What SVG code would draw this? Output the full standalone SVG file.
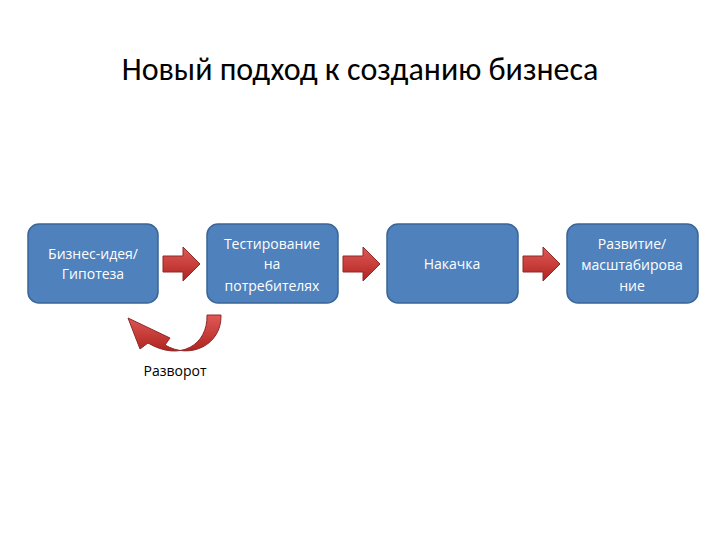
<svg xmlns="http://www.w3.org/2000/svg" width="720" height="540" viewBox="0 0 720 540">
<defs>
<linearGradient id="rg" x1="0" y1="0" x2="0" y2="1"><stop offset="0" stop-color="#e05a57"/><stop offset="1" stop-color="#b02420"/></linearGradient>
<style>
.box{fill:#4f81bd;stroke:#3a6596;stroke-width:1.5}
.bt{font-family:"Open Sans","DejaVu Sans",sans-serif;font-size:14px;fill:#ffffff;text-anchor:middle}
.ar{fill:url(#rg);stroke:#8c2a28;stroke-width:1}
</style>
</defs>
<rect width="720" height="540" fill="#fff"/>
<text x="360" y="80" font-family="Calibri,'Open Sans','DejaVu Sans',sans-serif" font-size="32" fill="#000" text-anchor="middle">Новый подход к созданию бизнеса</text>
<g id="n1"><rect class="box" x="28" y="224" width="130" height="79" rx="11"/><text class="bt" x="93" y="259">Бизнес-идея/</text><text class="bt" x="93" y="279">Гипотеза</text></g>
<g id="n2"><rect class="box" x="207" y="224" width="131" height="79" rx="11"/><text class="bt" x="272" y="249">Тестирование</text><text class="bt" x="272" y="269">на</text><text class="bt" x="272" y="291">потребителях</text></g>
<g id="n3"><rect class="box" x="387" y="224" width="131" height="79" rx="11"/><text class="bt" x="452" y="269">Накачка</text></g>
<g id="n4"><rect class="box" x="567" y="224" width="131" height="79" rx="11"/><text class="bt" x="632" y="249">Развитие/</text><text class="bt" x="632" y="270">масштабирова</text><text class="bt" x="632" y="291">ние</text></g>
<g id="connectors">
<path class="ar" d="M163,256 H183 V247 L200,264 L183,281 V272 H163 Z"/>
<path class="ar" d="M343,256 H363 V247 L380,264 L363,281 V272 H343 Z"/>
<path class="ar" d="M523,256 H543 V247 L560,264 L543,281 V272 H523 Z"/>
<path class="ar" d="M221,315 C222,345 190,360 165,345 L170,338 L128,318 L140,349 L148,343 C180,362 208,345 207,315 Z"/>
</g>
<text x="175" y="376" font-family="'Open Sans','DejaVu Sans',sans-serif" font-size="14" fill="#000" text-anchor="middle">Разворот</text>
</svg>
